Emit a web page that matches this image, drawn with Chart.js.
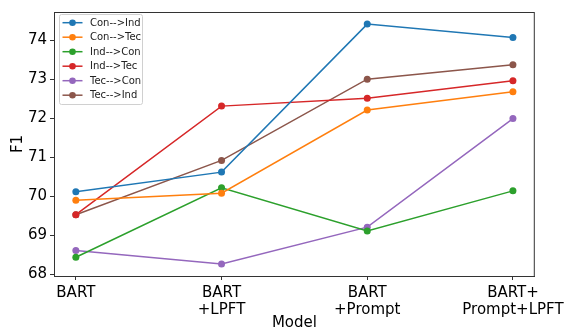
<!DOCTYPE html>
<html>
<head>
<meta charset="utf-8">
<script src="https://cdn.jsdelivr.net/npm/chart.js@4/dist/chart.umd.min.js"></script>
<style>
  html, body { margin: 0; padding: 0; background: #fff; }
  #wrap { width: 569px; height: 329px; }
</style>
</head>
<body>
<div id="wrap"><canvas id="f1Chart"></canvas></div>
<script>
const models = [["BART"], ["BART", "+LPFT"], ["BART", "+Prompt"], ["BART+", "Prompt+LPFT"]];
const yTicks = [68, 69, 70, 71, 72, 73, 74];

const conInd = [70.12, 70.62, 74.41, 74.07];
const conTec = [69.9, 70.08, 72.21, 72.68];
const indCon = [68.44, 70.22, 69.11, 70.14];
const indTec = [69.53, 72.31, 72.51, 72.96];
const tecCon = [68.61, 68.27, 69.21, 71.99];
const tecInd = [69.53, 70.92, 73.0, 73.37];

const series = [
  { label: "Con-->Ind", values: conInd, color: "#1f77b4" },
  { label: "Con-->Tec", values: conTec, color: "#ff7f0e" },
  { label: "Ind-->Con", values: indCon, color: "#2ca02c" },
  { label: "Ind-->Tec", values: indTec, color: "#d62728" },
  { label: "Tec-->Con", values: tecCon, color: "#9467bd" },
  { label: "Tec-->Ind", values: tecInd, color: "#8c564b" },
];

const font = "'DejaVu Sans', sans-serif";

// legend inside the axes, upper left, plus the top/right spines
const innerLegend = {
  id: "innerLegend",
  afterDraw(chart) {
    const ctx = chart.ctx;
    const a = chart.chartArea;
    ctx.save();
    ctx.strokeStyle = "#333";
    ctx.lineWidth = 1;
    ctx.strokeRect(a.left + 0.5, a.top + 0.5, a.right - a.left - 1, a.bottom - a.top);

    const bx = 59.5, by = 14.5, bw = 83, bh = 90;
    ctx.fillStyle = "rgba(255,255,255,0.8)";
    ctx.strokeStyle = "#d0d0d0";
    ctx.beginPath();
    ctx.roundRect(bx, by, bw, bh, 2);
    ctx.fill();
    ctx.stroke();

    ctx.font = "10px " + font;
    ctx.textBaseline = "middle";
    chart.data.datasets.forEach((ds, i) => {
      const y = 22.7 + i * 14.5;
      ctx.strokeStyle = ds.borderColor;
      ctx.lineWidth = 1.5;
      ctx.beginPath();
      ctx.moveTo(62.5, y);
      ctx.lineTo(82.5, y);
      ctx.stroke();
      ctx.fillStyle = ds.borderColor;
      ctx.beginPath();
      ctx.arc(72.5, y, 3.3, 0, Math.PI * 2);
      ctx.fill();
      ctx.fillStyle = "#222";
      ctx.fillText(ds.label, 90, y + 0.5);
    });
    ctx.restore();
  },
};

new Chart(document.getElementById("f1Chart"), {
  type: "line",
  data: {
    datasets: series.map((s) => ({
      label: s.label,
      data: s.values.map((v, i) => ({ x: i, y: v })),
      borderColor: s.color,
      backgroundColor: s.color,
      borderWidth: 1.5,
      pointRadius: 3.5,
      pointHoverRadius: 3.5,
      pointBorderWidth: 0,
      tension: 0,
    })),
  },
  options: {
    responsive: true,
    maintainAspectRatio: false,
    animation: false,
    layout: { padding: { top: 10, right: 31, left: 0, bottom: 0 } },
    plugins: { legend: { display: false }, tooltip: { enabled: false } },
    scales: {
      x: {
        type: "linear",
        min: -0.15,
        max: 3.15,
        afterBuildTicks: (axis) => { axis.ticks = models.map((m, i) => ({ value: i })); },
        afterFit: (axis) => { axis.height = 53; },
        ticks: {
          callback: (v) => models[v],
          color: "#000",
          font: { family: font, size: 15, lineHeight: 1.15 },
          padding: 4,
          maxRotation: 0,
          autoSkip: false,
        },
        grid: { drawOnChartArea: false, drawTicks: true, tickLength: 4, color: "#333" },
        border: { display: true, color: "#333" },
        title: {
          display: true,
          text: "Model",
          color: "#000",
          font: { family: font, size: 15, lineHeight: 1 },
          padding: { top: 0, bottom: -2 },
        },
      },
      y: {
        type: "linear",
        min: 67.96,
        max: 74.72,
        afterBuildTicks: (axis) => { axis.ticks = yTicks.map((v) => ({ value: v })); },
        afterFit: (axis) => { axis.width = 54; },
        ticks: {
          color: "#000",
          font: { family: font, size: 15 },
          padding: 3,
        },
        grid: { drawOnChartArea: false, drawTicks: true, tickLength: 4, color: "#333" },
        border: { display: true, color: "#333" },
        title: {
          display: true,
          text: "F1",
          color: "#000",
          font: { family: font, size: 15, lineHeight: 1.2 },
          padding: { top: 9, bottom: 0 },
        },
      },
    },
  },
  plugins: [innerLegend],
});
</script>
</body>
</html>
